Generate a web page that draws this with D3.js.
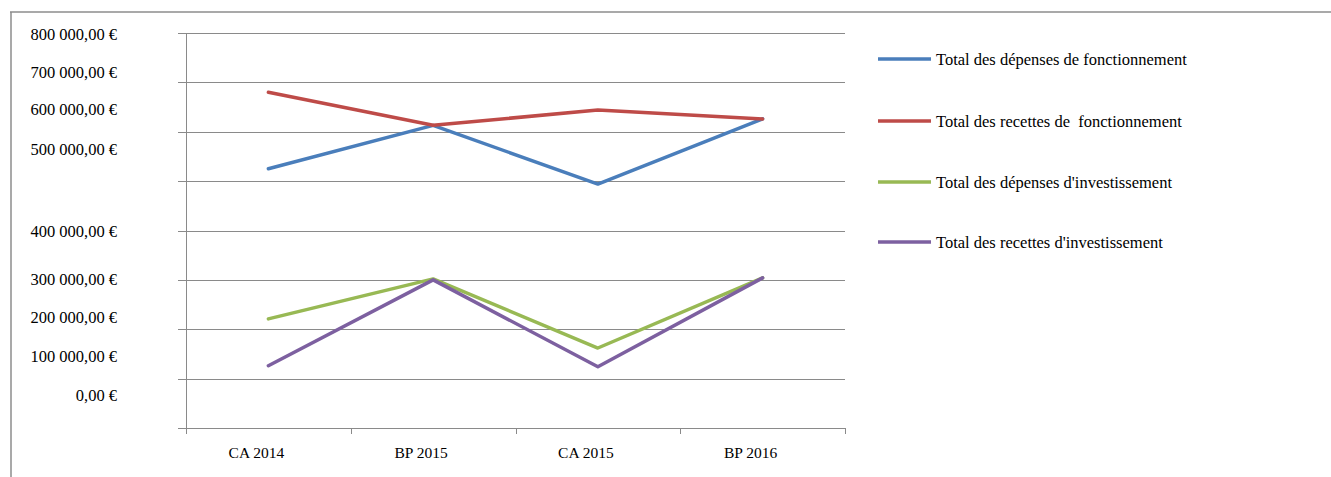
<!DOCTYPE html>
<html>
<head>
<meta charset="utf-8">
<script src="https://cdn.jsdelivr.net/npm/d3@7"></script>
<style>
  body { margin: 0; background: #fff; }
  text { font-family: "Liberation Serif", "Times New Roman", serif; fill: #000; white-space: pre; }
</style>
</head>
<body>
<div id="chart"></div>
<script>
// Categories and series (in euros)
var categories = ["CA 2014", "BP 2015", "CA 2015", "BP 2016"];
var depFonct = [525000, 613000, 494000, 626000];
var recFonct = [680000, 613000, 644000, 626000];
var depInvest = [221000, 302000, 162000, 304000];
var recInvest = [126000, 300000, 124000, 304000];
var seriesNames = [
  "Total des dépenses de fonctionnement",
  "Total des recettes de  fonctionnement",
  "Total des dépenses d'investissement",
  "Total des recettes d'investissement"
];
var yTickLabels = ["800 000,00 €", "700 000,00 €", "600 000,00 €", "500 000,00 €",
  "400 000,00 €", "300 000,00 €", "200 000,00 €", "100 000,00 €", "0,00 €"];

var colors = ["#4a7ebb", "#be4b48", "#98b954", "#7d60a0"];
var seriesValues = [depFonct, recFonct, depInvest, recInvest];

// SVG dimensions
var svgWidth = 1331;
var svgHeight = 477;

// plot area
var plot = { left: 186, right: 845, top: 33, bottom: 428 };

// label rows for the (misaligned) value labels, as in the original
var labelRowY = [34, 72, 109, 149, 231, 279, 317, 356, 395];

var svg = d3.select("#chart")
  .append("svg")
  .attr("width", svgWidth)
  .attr("height", svgHeight);

// frame
svg.append("line").attr("x1", 10).attr("x2", 1331).attr("y1", 12).attr("y2", 12)
  .attr("stroke", "#8c8c8c").attr("stroke-width", 1.5);
svg.append("line").attr("x1", 11).attr("x2", 11).attr("y1", 12).attr("y2", 477)
  .attr("stroke", "#8c8c8c").attr("stroke-width", 1.5);

// scales
var xScale = d3.scaleBand()
  .domain(categories)
  .range([plot.left, plot.right]);

var yScale = d3.scaleLinear()
  .domain([0, 800000])
  .range([plot.bottom, plot.top]);

// gridlines
var gridValues = d3.range(0, 800001, 100000);
svg.append("g").selectAll("line")
  .data(gridValues)
  .enter()
  .append("line")
  .attr("x1", plot.left - 8)
  .attr("x2", plot.right)
  .attr("y1", d => Math.round(yScale(d)) + 0.5)
  .attr("y2", d => Math.round(yScale(d)) + 0.5)
  .attr("stroke", "#8a8a8a")
  .attr("stroke-width", 1);

// vertical axis line
svg.append("line")
  .attr("x1", plot.left + 0.5).attr("x2", plot.left + 0.5)
  .attr("y1", plot.top).attr("y2", plot.bottom + 6)
  .attr("stroke", "#8a8a8a");

// x axis ticks
var xTicks = categories.map(c => xScale(c)).concat([plot.right]);
svg.append("g").selectAll("line")
  .data(xTicks)
  .enter()
  .append("line")
  .attr("x1", d => Math.round(d) + 0.5)
  .attr("x2", d => Math.round(d) + 0.5)
  .attr("y1", plot.bottom)
  .attr("y2", plot.bottom + 6)
  .attr("stroke", "#8a8a8a");

// x labels
svg.append("g").selectAll("text")
  .data(categories)
  .enter()
  .append("text")
  .attr("x", d => xScale(d) + xScale.bandwidth() / 2 - 12)
  .attr("y", 458)
  .attr("text-anchor", "middle")
  .style("font-size", "15.5px")
  .text(d => d);

// y labels
svg.append("g").selectAll("text")
  .data(yTickLabels)
  .enter()
  .append("text")
  .attr("x", 117)
  .attr("y", (d, i) => labelRowY[i])
  .attr("dy", "0.35em")
  .attr("text-anchor", "end")
  .style("font-size", "16.5px")
  .text(d => d);

// lines
var line = d3.line()
  .x((d, i) => xScale(categories[i]) + xScale.bandwidth() / 2)
  .y(d => yScale(d));

svg.append("g").selectAll("path")
  .data(seriesValues)
  .enter()
  .append("path")
  .attr("d", d => line(d))
  .attr("fill", "none")
  .attr("stroke", (d, i) => colors[i])
  .attr("stroke-width", 3.5)
  .attr("stroke-linejoin", "round")
  .attr("stroke-linecap", "round");

// legend
var legendY = [59, 121, 182, 242];
var legend = svg.append("g").selectAll("g")
  .data(seriesNames)
  .enter()
  .append("g")
  .attr("transform", (d, i) => `translate(878, ${legendY[i]})`);

legend.append("line")
  .attr("x1", 0).attr("x2", 53)
  .attr("stroke", (d, i) => colors[i])
  .attr("stroke-width", 3.5);

legend.append("text")
  .attr("x", 58)
  .attr("dy", "0.35em")
  .style("font-size", "16.5px")
  .text(d => d);
</script>
</body>
</html>
